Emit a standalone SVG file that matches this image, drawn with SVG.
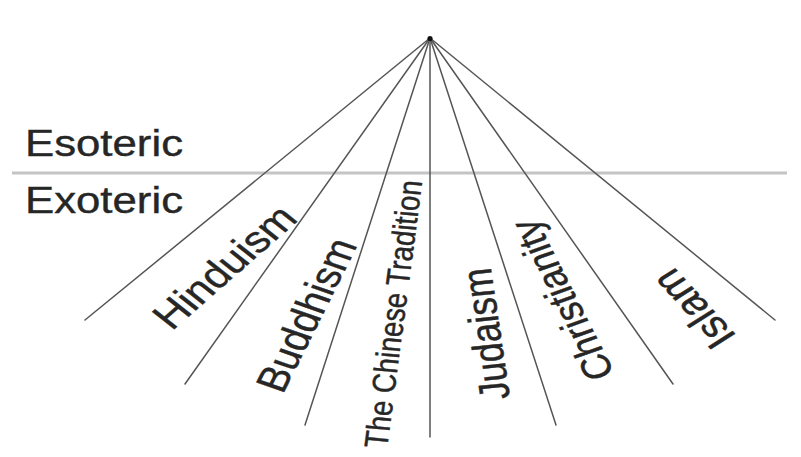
<svg xmlns="http://www.w3.org/2000/svg" width="801" height="457" viewBox="0 0 801 457">
  <style>
    .ray { stroke: #555555; stroke-width: 1.5; fill: none; stroke-linecap: round; }
    .divider { stroke: #c4c4c4; stroke-width: 3; fill: none; }
    .lbl { font-family: "Liberation Sans", Arial, sans-serif; fill: #262626; stroke: #262626; stroke-width: 0.4; }
    .rot { text-anchor: middle; }
  </style>
  <rect width="801" height="457" fill="#ffffff"/>
  <g id="connectors">
    <line class="divider" x1="12" y1="173" x2="787" y2="173"/>
    <line class="ray" x1="430" y1="38" x2="85" y2="320"/>
    <line class="ray" x1="430" y1="38" x2="185" y2="384"/>
    <line class="ray" x1="430" y1="38" x2="305" y2="425"/>
    <line class="ray" x1="430" y1="38" x2="430" y2="437"/>
    <line class="ray" x1="430" y1="38" x2="556" y2="425"/>
    <line class="ray" x1="430" y1="38" x2="673" y2="384"/>
    <line class="ray" x1="430" y1="38" x2="775" y2="320"/>
  </g>
  <g id="apex">
    <circle cx="430" cy="38.5" r="2.6" fill="#111"/>
  </g>
  <g id="esoteric">
    <text class="lbl" x="25" y="156" font-size="37" textLength="158" lengthAdjust="spacingAndGlyphs">Esoteric</text>
  </g>
  <g id="exoteric">
    <text class="lbl" x="25" y="213" font-size="37" textLength="158" lengthAdjust="spacingAndGlyphs">Exoteric</text>
  </g>
  <g id="hinduism">
    <text class="lbl rot" font-size="37" dy="0.34em" transform="translate(224.5 267) scale(1.2 1) rotate(-46.4)">Hinduism</text>
  </g>
  <g id="buddhism">
    <text class="lbl rot" font-size="36.5" dy="0.34em" transform="translate(306.5 315) scale(1.2 1) rotate(-67.4)">Buddhism</text>
  </g>
  <g id="chinese">
    <text class="lbl rot" font-size="27.5" dy="0.34em" transform="translate(393.5 314) scale(1.2 1) rotate(-83.7)">The Chinese Tradition</text>
  </g>
  <g id="judaism">
    <text class="lbl rot" font-size="35.5" dy="0.34em" transform="translate(486 334) scale(1.2 1) rotate(-97)">Judaism</text>
  </g>
  <g id="christianity">
    <text class="lbl rot" font-size="34.5" dy="0.34em" transform="translate(562.5 300) scale(1.2 1) rotate(-112.9)">Christianity</text>
  </g>
  <g id="islam">
    <text class="lbl rot" font-size="37" dy="0.34em" transform="translate(693.5 309) scale(1.2 1) rotate(-127.2)">Islam</text>
  </g>
</svg>
